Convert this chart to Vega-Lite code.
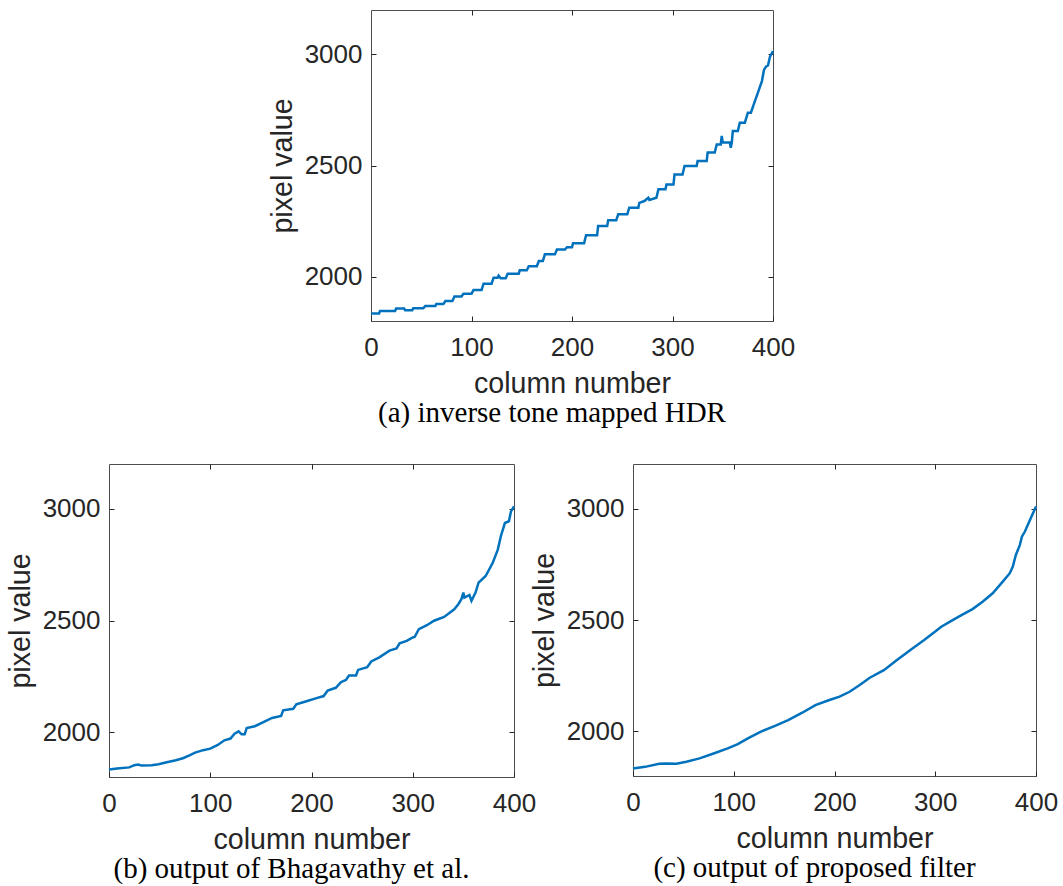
{
  "$schema": "https://vega.github.io/schema/vega-lite/v6.json",
  "background": "white",
  "padding": {"left": 5, "top": 9, "right": 0, "bottom": 0},
  "datasets": {
    "hdr": [
      {"col": 0, "val": 1834}, {"col": 8, "val": 1834}, {"col": 9, "val": 1845}, {"col": 24, "val": 1845},
      {"col": 25, "val": 1856}, {"col": 33, "val": 1856}, {"col": 34, "val": 1848}, {"col": 41, "val": 1848},
      {"col": 42, "val": 1857}, {"col": 52, "val": 1857}, {"col": 54, "val": 1867}, {"col": 64, "val": 1867},
      {"col": 65, "val": 1876}, {"col": 72, "val": 1876}, {"col": 74, "val": 1890}, {"col": 81, "val": 1890},
      {"col": 83, "val": 1910}, {"col": 90, "val": 1910}, {"col": 92, "val": 1923}, {"col": 100, "val": 1923},
      {"col": 102, "val": 1939}, {"col": 110, "val": 1939}, {"col": 112, "val": 1968}, {"col": 120, "val": 1968},
      {"col": 122, "val": 1995}, {"col": 126, "val": 1995}, {"col": 127, "val": 2004}, {"col": 129, "val": 1992},
      {"col": 134, "val": 1992}, {"col": 136, "val": 2013}, {"col": 147, "val": 2013}, {"col": 148, "val": 2028},
      {"col": 155, "val": 2028}, {"col": 157, "val": 2047}, {"col": 165, "val": 2047}, {"col": 167, "val": 2070},
      {"col": 171, "val": 2070}, {"col": 173, "val": 2100}, {"col": 183, "val": 2100}, {"col": 185, "val": 2122},
      {"col": 193, "val": 2122}, {"col": 195, "val": 2132}, {"col": 200, "val": 2132}, {"col": 201, "val": 2150},
      {"col": 212, "val": 2150}, {"col": 214, "val": 2186}, {"col": 225, "val": 2186}, {"col": 226, "val": 2228},
      {"col": 235, "val": 2228}, {"col": 236, "val": 2253}, {"col": 244, "val": 2253}, {"col": 246, "val": 2280},
      {"col": 255, "val": 2280}, {"col": 257, "val": 2310}, {"col": 266, "val": 2310}, {"col": 267, "val": 2332},
      {"col": 272, "val": 2340}, {"col": 276, "val": 2355}, {"col": 277, "val": 2345}, {"col": 284, "val": 2355},
      {"col": 286, "val": 2393}, {"col": 293, "val": 2393}, {"col": 294, "val": 2415}, {"col": 301, "val": 2415},
      {"col": 302, "val": 2460}, {"col": 310, "val": 2460}, {"col": 312, "val": 2498}, {"col": 324, "val": 2498},
      {"col": 325, "val": 2520}, {"col": 334, "val": 2520}, {"col": 335, "val": 2558}, {"col": 342, "val": 2558},
      {"col": 344, "val": 2595}, {"col": 348, "val": 2595}, {"col": 349, "val": 2633}, {"col": 350, "val": 2603},
      {"col": 357, "val": 2603}, {"col": 358, "val": 2580}, {"col": 359, "val": 2603}, {"col": 360, "val": 2655},
      {"col": 365, "val": 2655}, {"col": 367, "val": 2693}, {"col": 372, "val": 2693}, {"col": 375, "val": 2738},
      {"col": 378, "val": 2738}, {"col": 382, "val": 2790}, {"col": 385, "val": 2828}, {"col": 389, "val": 2880},
      {"col": 391, "val": 2930}, {"col": 393, "val": 2945}, {"col": 395, "val": 2950}, {"col": 397, "val": 2990},
      {"col": 400, "val": 3015}
    ],
    "bhagavathy": [
      {"col": 0, "val": 1834}, {"col": 8, "val": 1838}, {"col": 20, "val": 1843}, {"col": 25, "val": 1853},
      {"col": 29, "val": 1856}, {"col": 32, "val": 1851}, {"col": 42, "val": 1853}, {"col": 49, "val": 1857},
      {"col": 56, "val": 1865}, {"col": 66, "val": 1875}, {"col": 73, "val": 1884}, {"col": 80, "val": 1898},
      {"col": 85, "val": 1909}, {"col": 93, "val": 1920}, {"col": 100, "val": 1927}, {"col": 107, "val": 1942},
      {"col": 114, "val": 1964}, {"col": 120, "val": 1972}, {"col": 124, "val": 1994}, {"col": 128, "val": 2004},
      {"col": 131, "val": 1991}, {"col": 134, "val": 1991}, {"col": 136, "val": 2019}, {"col": 144, "val": 2027},
      {"col": 151, "val": 2042}, {"col": 161, "val": 2064}, {"col": 170, "val": 2073}, {"col": 172, "val": 2098},
      {"col": 182, "val": 2105}, {"col": 185, "val": 2125}, {"col": 195, "val": 2139}, {"col": 205, "val": 2153},
      {"col": 212, "val": 2162}, {"col": 216, "val": 2187}, {"col": 224, "val": 2199}, {"col": 229, "val": 2224},
      {"col": 234, "val": 2234}, {"col": 237, "val": 2254}, {"col": 244, "val": 2254}, {"col": 246, "val": 2279},
      {"col": 255, "val": 2291}, {"col": 259, "val": 2317}, {"col": 267, "val": 2335}, {"col": 277, "val": 2365},
      {"col": 284, "val": 2375}, {"col": 287, "val": 2398}, {"col": 294, "val": 2409}, {"col": 300, "val": 2424},
      {"col": 302, "val": 2427}, {"col": 306, "val": 2461}, {"col": 314, "val": 2479}, {"col": 321, "val": 2499},
      {"col": 331, "val": 2516}, {"col": 341, "val": 2550}, {"col": 345, "val": 2573}, {"col": 348, "val": 2595},
      {"col": 350, "val": 2625}, {"col": 351, "val": 2602}, {"col": 356, "val": 2614}, {"col": 358, "val": 2588},
      {"col": 362, "val": 2625}, {"col": 365, "val": 2669}, {"col": 372, "val": 2699}, {"col": 379, "val": 2758},
      {"col": 384, "val": 2817}, {"col": 387, "val": 2877}, {"col": 391, "val": 2936}, {"col": 395, "val": 2944},
      {"col": 397, "val": 2988}, {"col": 400, "val": 3010}
    ],
    "proposed": [
      {"col": 0, "val": 1834}, {"col": 12, "val": 1841}, {"col": 26, "val": 1855}, {"col": 33, "val": 1856},
      {"col": 43, "val": 1855}, {"col": 53, "val": 1864}, {"col": 66, "val": 1879}, {"col": 80, "val": 1901},
      {"col": 94, "val": 1924}, {"col": 104, "val": 1943}, {"col": 114, "val": 1969}, {"col": 127, "val": 1999},
      {"col": 141, "val": 2025}, {"col": 154, "val": 2051}, {"col": 168, "val": 2084}, {"col": 181, "val": 2118},
      {"col": 195, "val": 2141}, {"col": 205, "val": 2156}, {"col": 215, "val": 2178}, {"col": 225, "val": 2208},
      {"col": 235, "val": 2241}, {"col": 249, "val": 2275}, {"col": 262, "val": 2320}, {"col": 276, "val": 2368},
      {"col": 289, "val": 2410}, {"col": 300, "val": 2448}, {"col": 306, "val": 2470}, {"col": 316, "val": 2496},
      {"col": 326, "val": 2522}, {"col": 337, "val": 2549}, {"col": 347, "val": 2582}, {"col": 357, "val": 2620},
      {"col": 367, "val": 2672}, {"col": 374, "val": 2710}, {"col": 377, "val": 2740}, {"col": 380, "val": 2792},
      {"col": 384, "val": 2837}, {"col": 386, "val": 2874}, {"col": 389, "val": 2897}, {"col": 394, "val": 2949},
      {"col": 400, "val": 3009}
    ]
  },
  "spacing": 34,
  "vconcat": [
    {
      "bounds": "flush",
      "spacing": 119,
      "hconcat": [
        {
          "width": 143, "height": 311,
          "data": {"values": [{}]},
          "view": {"stroke": null},
          "mark": {"type": "point", "opacity": 0}
        },
        {
          "width": 402, "height": 311,
          "data": {"name": "hdr"},
          "title": {"text": "(a) inverse tone mapped HDR", "dx": -20},
          "layer": [
            {
              "mark": {"type": "line", "color": "#0072BD", "strokeWidth": 2.5},
              "encoding": {
                "x": {"field": "col", "type": "quantitative", "scale": {"domain": [0, 400], "nice": false, "zero": false},
                      "axis": {"title": "column number", "orient": "bottom", "values": [0, 100, 200, 300, 400], "format": "d", "labelPadding": 18, "titlePadding": 9}},
                "y": {"field": "val", "type": "quantitative", "scale": {"domain": [1800, 3200], "nice": false, "zero": false},
                      "axis": {"title": "pixel value", "orient": "left", "values": [2000, 2500, 3000], "format": "d", "labelPadding": 14, "titlePadding": 7}}
              }
            },
            {
              "mark": {"type": "line", "opacity": 0},
              "encoding": {
                "x": {"field": "col", "type": "quantitative", "axis": {"orient": "top", "labels": false, "title": null, "values": [100, 200, 300]}},
                "y": {"field": "val", "type": "quantitative", "axis": {"orient": "right", "labels": false, "title": null, "values": [2000, 2500, 3000]}}
              }
            }
          ],
          "resolve": {"axis": {"x": "independent", "y": "independent"}}
        }
      ]
    },
    {
      "bounds": "flush",
      "spacing": 119,
      "hconcat": [
        {
          "width": 405, "height": 313,
          "data": {"name": "bhagavathy"},
          "title": {"text": "(b) output of Bhagavathy et al.", "dx": -20},
          "layer": [
            {
              "mark": {"type": "line", "color": "#0072BD", "strokeWidth": 2.5},
              "encoding": {
                "x": {"field": "col", "type": "quantitative", "scale": {"domain": [0, 400], "nice": false, "zero": false},
                      "axis": {"title": "column number", "orient": "bottom", "values": [0, 100, 200, 300, 400], "format": "d", "labelPadding": 18, "titlePadding": 9}},
                "y": {"field": "val", "type": "quantitative", "scale": {"domain": [1800, 3200], "nice": false, "zero": false},
                      "axis": {"title": "pixel value", "orient": "left", "values": [2000, 2500, 3000], "format": "d", "labelPadding": 14, "titlePadding": 7}}
              }
            },
            {
              "mark": {"type": "line", "opacity": 0},
              "encoding": {
                "x": {"field": "col", "type": "quantitative", "axis": {"orient": "top", "labels": false, "title": null, "values": [100, 200, 300]}},
                "y": {"field": "val", "type": "quantitative", "axis": {"orient": "right", "labels": false, "title": null, "values": [2000, 2500, 3000]}}
              }
            }
          ],
          "resolve": {"axis": {"x": "independent", "y": "independent"}}
        },
        {
          "width": 403, "height": 312,
          "data": {"name": "proposed"},
          "title": {"text": "(c) output of proposed filter", "dx": -20},
          "layer": [
            {
              "mark": {"type": "line", "color": "#0072BD", "strokeWidth": 2.5},
              "encoding": {
                "x": {"field": "col", "type": "quantitative", "scale": {"domain": [0, 400], "nice": false, "zero": false},
                      "axis": {"title": "column number", "orient": "bottom", "values": [0, 100, 200, 300, 400], "format": "d", "labelPadding": 18, "titlePadding": 9}},
                "y": {"field": "val", "type": "quantitative", "scale": {"domain": [1800, 3200], "nice": false, "zero": false},
                      "axis": {"title": "pixel value", "orient": "left", "values": [2000, 2500, 3000], "format": "d", "labelPadding": 14, "titlePadding": 7}}
              }
            },
            {
              "mark": {"type": "line", "opacity": 0},
              "encoding": {
                "x": {"field": "col", "type": "quantitative", "axis": {"orient": "top", "labels": false, "title": null, "values": [100, 200, 300]}},
                "y": {"field": "val", "type": "quantitative", "axis": {"orient": "right", "labels": false, "title": null, "values": [2000, 2500, 3000]}}
              }
            }
          ],
          "resolve": {"axis": {"x": "independent", "y": "independent"}}
        }
      ]
    }
  ],
  "config": {
    "view": {"stroke": "#4d4d4d", "strokeWidth": 1},
    "axis": {
      "domain": false,
      "grid": false,
      "ticks": true,
      "tickSize": -5,
      "tickColor": "#262626",
      "tickWidth": 1,
      "labelFont": "Liberation Sans",
      "labelFontSize": 26,
      "labelColor": "#262626",
      "labelOverlap": false,
      "labelFlush": false,
      "titleFont": "Liberation Sans",
      "titleFontSize": 28.6,
      "titleFontWeight": "normal",
      "titleColor": "#262626"
    },
    "title": {
      "orient": "bottom",
      "anchor": "middle",
      "frame": "group",
      "font": "Liberation Serif",
      "fontSize": 29,
      "fontWeight": "normal",
      "color": "#000000",
      "offset": 1
    }
  }
}
